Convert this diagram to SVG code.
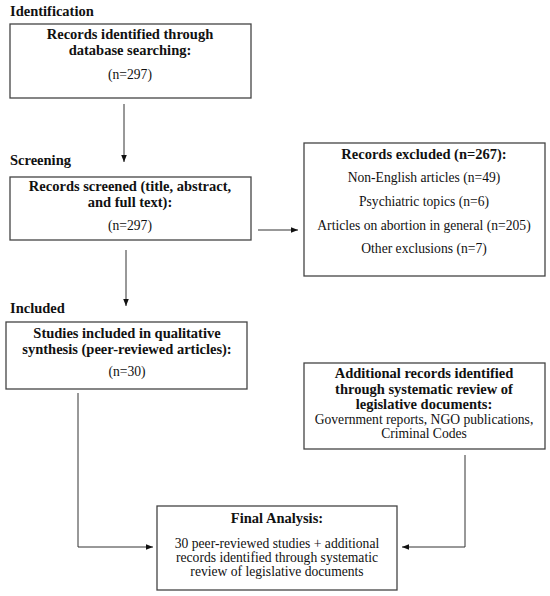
<svg xmlns="http://www.w3.org/2000/svg" width="550" height="596" viewBox="0 0 550 596">
<style>
text{font-family:"Liberation Serif","Times New Roman",serif;fill:#111;}
.h{font-weight:bold;font-size:14.5px;}
.b{font-weight:bold;font-size:14.5px;text-anchor:middle;}
.t{font-size:13.6px;text-anchor:middle;}
.box{fill:#fff;stroke:#444;stroke-width:1.3;}
.ln{fill:none;stroke:#333;stroke-width:1;}
</style>
<defs>
<marker id="ah" viewBox="0 0 10 10" refX="10" refY="5" markerWidth="7" markerHeight="7" orient="auto" markerUnits="userSpaceOnUse">
<path d="M0,1 L10,5 L0,9 z" fill="#111"/>
</marker>
</defs>
<rect width="550" height="596" fill="#fff"/>
<text class="h" x="10" y="16">Identification</text>
<text class="h" x="10" y="165">Screening</text>
<text class="h" x="10" y="313">Included</text>
<g id="connectors">
<line class="ln" x1="124" y1="104" x2="124" y2="162" marker-end="url(#ah)"/>
<line class="ln" x1="258" y1="230" x2="298" y2="230" marker-end="url(#ah)"/>
<line class="ln" x1="126" y1="250" x2="126" y2="306" marker-end="url(#ah)"/>
<polyline class="ln" points="78,393 78,547 153,547" marker-end="url(#ah)"/>
<polyline class="ln" points="465,455 465,547 402,547" marker-end="url(#ah)"/>
</g>
<g id="identified">
<rect class="box" x="10" y="24" width="241" height="74"/>
<text class="b" x="130" y="39">Records identified through</text>
<text class="b" x="130" y="55">database searching:</text>
<text class="t" x="130" y="79">(n=297)</text>
</g>
<g id="screened">
<rect class="box" x="10" y="177" width="241" height="63"/>
<text class="b" x="130" y="191">Records screened (title, abstract,</text>
<text class="b" x="130" y="207">and full text):</text>
<text class="t" x="130" y="230">(n=297)</text>
</g>
<g id="excluded">
<rect class="box" x="304" y="143" width="241" height="133"/>
<text class="b" x="424" y="159">Records excluded (n=267):</text>
<text class="t" x="424" y="182">Non-English articles (n=49)</text>
<text class="t" x="424" y="206">Psychiatric topics (n=6)</text>
<text class="t" x="424" y="230">Articles on abortion in general (n=205)</text>
<text class="t" x="424" y="253">Other exclusions (n=7)</text>
</g>
<g id="included">
<rect class="box" x="6" y="322" width="241" height="67"/>
<text class="b" x="127" y="338">Studies included in qualitative</text>
<text class="b" x="127" y="354">synthesis (peer-reviewed articles):</text>
<text class="t" x="127" y="376">(n=30)</text>
</g>
<g id="additional">
<rect class="box" x="304" y="363" width="241" height="86"/>
<text class="b" x="424" y="378">Additional records identified</text>
<text class="b" x="424" y="394">through systematic review of</text>
<text class="b" x="424" y="409">legislative documents:</text>
<text class="t" x="424" y="424">Government reports, NGO publications,</text>
<text class="t" x="424" y="438">Criminal Codes</text>
</g>
<g id="final">
<rect class="box" x="157" y="506" width="240" height="84"/>
<text class="b" x="277" y="523">Final Analysis:</text>
<text class="t" x="277" y="548">30 peer-reviewed studies + additional</text>
<text class="t" x="277" y="562">records identified through systematic</text>
<text class="t" x="277" y="576">review of legislative documents</text>
</g>
</svg>
